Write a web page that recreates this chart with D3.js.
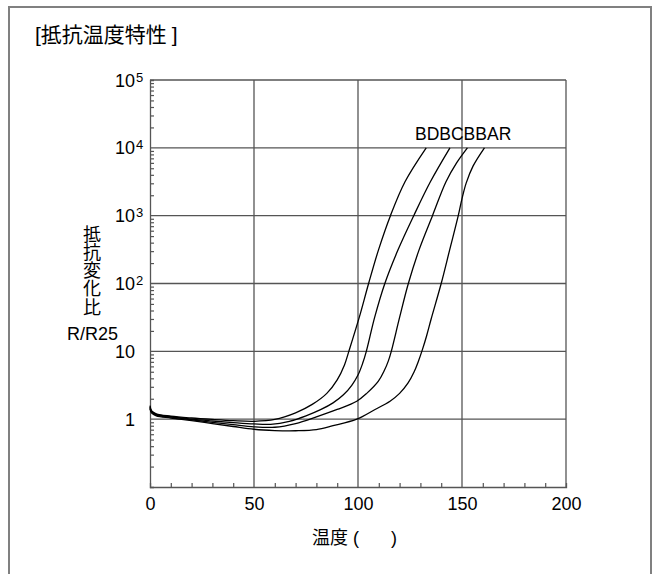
<!DOCTYPE html>
<html>
<head>
<meta charset="utf-8">
<script src="https://cdn.jsdelivr.net/npm/d3@7"></script>
<style>
  body { margin: 0; background: #fff; }
  svg text { font-family: "Liberation Sans", Arial, "Noto Sans CJK JP", sans-serif; }
</style>
</head>
<body>
<svg class="canvas"></svg>
<script>
// resistance ratio R/R25 vs temperature, one array of [temp, ratio] per grade
const seriesNames = ['BD', 'BC', 'BB', 'AR'];

const bd = [[0,1.58],[0.8,1.32],[3,1.2],[10,1.11],[20,1.04],[30,0.99],[40,0.95],[50,0.93],
  [60,0.99],[70,1.24],[78,1.65],[85,2.4],[90,3.8],[93.5,6.3],[95.6,10],[100.6,31.6],
  [105.1,100],[109.9,316],[115.6,1000],[122.6,3162],[132.8,10000]];

const bc = [[0,1.52],[0.8,1.3],[3,1.18],[10,1.09],[20,1.0],[30,0.94],[40,0.89],[50,0.85],
  [58,0.84],[67,0.93],[75,1.12],[82,1.38],[88,1.74],[93,2.29],[97,3.16],[100,4.47],
  [102.2,6.6],[104,10],[108,31.6],[112.9,100],[119.3,316],[126.8,1000],[134.8,3162],[144.2,10000]];

const bb = [[0,1.47],[0.8,1.27],[3,1.15],[10,1.07],[20,0.98],[30,0.9],[40,0.83],[50,0.77],
  [60,0.76],[70,0.86],[80,1.08],[90,1.39],[99.4,1.84],[104.2,2.4],[109.8,3.63],[112.7,5.25],
  [114.6,7.24],[116,10],[120,31.6],[124.2,100],[129.4,316],[135.8,1000],[142.3,3162],
  [147.4,6000],[152.6,10000]];

const ar = [[0,1.42],[0.8,1.23],[3,1.12],[10,1.04],[20,0.95],[30,0.86],[40,0.78],[50,0.71],
  [60,0.68],[70,0.675],[80,0.7],[88,0.8],[99.4,1.0],[108.2,1.39],[115.4,1.84],[120,2.4],
  [124,3.39],[127,5.0],[129,7.1],[131,10.7],[133,17],[135.2,30.2],[140,100],[144.1,316],
  [148.2,1000],[150,1780],[152,3020],[155.3,5370],[160.8,10000]];

const xTicks = [0, 50, 100, 150, 200];
const xMinorTicks = [10, 20, 30, 40, 60, 70, 80, 90, 110, 120, 130, 140, 160, 170, 180, 190];
const yDecades = [1, 10, 100, 1000, 10000, 100000];
const yLabels = [['1', ''], ['10', ''], ['10', '2'], ['10', '3'], ['10', '4'], ['10', '5']];

const titleParts = ['[抵抗温度特性', ']'];
const yTitle = ['抵', '抗', '変', '化', '比'];
const yUnit = 'R/R25';
const legendText = 'BDBCBBAR';

const w = 656;
const h = 574;
const padLeft = 150, padRight = 566, padTop = 80, padBottom = 487;
const gridColor = '#555';

const svg = d3.select('svg.canvas')
  .attr('width', w)
  .attr('height', h);

// outer frame, bottom edge runs off the page
svg.append('rect')
  .attr('x', 9).attr('y', 7)
  .attr('width', 642).attr('height', 620)
  .attr('fill', 'none')
  .attr('stroke', '#808080')
  .attr('stroke-width', 2);

let tt = svg.append('text')
  .attr('x', 35).attr('y', 42)
  .attr('font-size', 21);
tt.append('tspan').text(titleParts[0]);
tt.append('tspan').attr('dx', 5).text(titleParts[1]);

const xScale = d3.scaleLinear().domain([0, 200]).range([padLeft, padRight]);
const yScale = d3.scaleLog().domain([0.1, 100000]).range([padBottom, padTop]);

let yMinor = [];
[0.1, 1, 10, 100, 1000, 10000].forEach(d => {
  for (let k = 2; k <= 9; k++) yMinor.push(d * k);
});

// grid
svg.append('g')
  .selectAll('line')
  .data(xTicks.slice(1))
  .enter()
  .append('line')
  .attr('x1', d => xScale(d)).attr('x2', d => xScale(d))
  .attr('y1', padTop).attr('y2', padBottom)
  .attr('stroke', gridColor).attr('stroke-width', 1.3);

svg.append('g')
  .selectAll('line')
  .data(yDecades)
  .enter()
  .append('line')
  .attr('x1', padLeft).attr('x2', padRight)
  .attr('y1', d => yScale(d)).attr('y2', d => yScale(d))
  .attr('stroke', gridColor).attr('stroke-width', 1.3);

// minor ticks pointing into the plot
let yMinorAxis = d3.axisRight(yScale).tickValues(yMinor).tickSize(4).tickFormat('');
svg.append('g')
  .attr('transform', 'translate(' + padLeft + ', 0)')
  .call(yMinorAxis)
  .call(g => g.select('.domain').attr('stroke', gridColor).attr('stroke-width', 1.3))
  .call(g => g.selectAll('.tick line').attr('stroke', gridColor).attr('stroke-width', 1.2));

let xMinorAxis = d3.axisTop(xScale).tickValues(xMinorTicks).tickSize(4).tickFormat('');
svg.append('g')
  .attr('transform', 'translate(0, ' + padBottom + ')')
  .call(xMinorAxis)
  .call(g => g.select('.domain').attr('stroke', gridColor).attr('stroke-width', 1.3))
  .call(g => g.selectAll('.tick line').attr('stroke', gridColor).attr('stroke-width', 1.2));

// x labels
let xAxis = d3.axisBottom(xScale).tickValues(xTicks).tickSize(0).tickPadding(10);
svg.append('g')
  .attr('transform', 'translate(0, ' + padBottom + ')')
  .call(xAxis)
  .call(g => g.select('.domain').remove())
  .call(g => g.selectAll('.tick text')
    .attr('font-size', 18)
    .attr('fill', '#000')
    .style('font-family', '"Liberation Sans", Arial, sans-serif'));

// y labels with exponents
let yl = svg.append('g').selectAll('g')
  .data(yDecades)
  .enter()
  .append('g');

yl.append('text')
  .attr('x', 135)
  .attr('y', d => yScale(d) + 6.5)
  .attr('text-anchor', 'end')
  .attr('font-size', 18)
  .text((d, i) => yLabels[i][0]);

yl.append('text')
  .attr('x', 136)
  .attr('y', d => yScale(d) + 1.5)
  .attr('font-size', 13)
  .text((d, i) => yLabels[i][1]);

// axis titles
svg.append('g')
  .selectAll('text')
  .data(yTitle)
  .enter()
  .append('text')
  .attr('x', 92)
  .attr('y', (d, i) => 240.5 + i * 18.3)
  .attr('text-anchor', 'middle')
  .attr('font-size', 18)
  .text(d => d);

svg.append('text')
  .attr('x', 92.5).attr('y', 340)
  .attr('text-anchor', 'middle')
  .attr('font-size', 18)
  .text(yUnit);

let xt = svg.append('text')
  .attr('y', 544)
  .attr('font-size', 18);
xt.append('tspan').attr('x', 312).text('温度');
xt.append('tspan').attr('x', 353).text('(');
xt.append('tspan').attr('x', 391).text(')');

// curves
let line = d3.line()
  .x(d => xScale(d[0]))
  .y(d => yScale(d[1]))
  .curve(d3.curveCatmullRom.alpha(0.5));

svg.append('g')
  .selectAll('path')
  .data([bd, bc, bb, ar])
  .enter()
  .append('path')
  .attr('class', (d, i) => 'curve ' + seriesNames[i])
  .attr('d', line)
  .attr('fill', 'none')
  .attr('stroke', '#000')
  .attr('stroke-width', 1.3);

svg.append('text')
  .attr('x', 415).attr('y', 139.5)
  .attr('font-size', 17.5)
  .text(legendText);
</script>
</body>
</html>
